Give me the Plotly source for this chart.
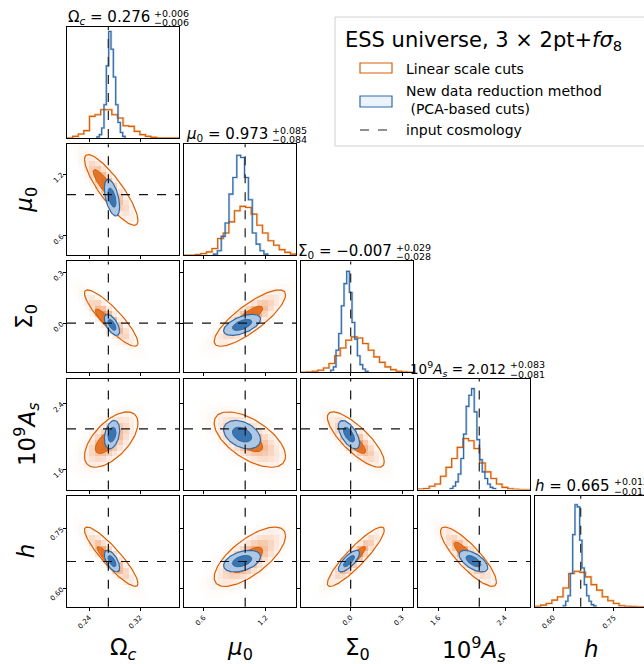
import numpy as np
import plotly.graph_objects as go

W, H = 644, 664

# ---------------- data ----------------
axis_labels = ["Ω<sub><i>c</i></sub>", "<i>μ</i><sub>0</sub>", "Σ<sub>0</sub>",
               "10<sup>9</sup><i>A</i><sub><i>s</i></sub>", "<i>h</i>"]
title_names = ["Ω<sub><i>c</i></sub>", "<i>μ</i><sub>0</sub>", "Σ<sub>0</sub>",
               "10<sup>9</sup><i>A</i><sub><i>s</i></sub>", "<i>h</i>"]
best_values = ["0.276", "0.973", "−0.007", "2.012", "0.665"]
err_plus = ["0.006", "0.085", "0.029", "0.083", "0.012"]
err_minus = ["0.006", "0.084", "0.028", "0.081", "0.012"]

axis_ranges = [[0.205, 0.381], [0.41, 1.49], [-0.29, 0.364], [1.353, 2.70], [0.555, 0.832]]
tick_values = [[0.24, 0.32], [0.6, 1.2], [0.0, 0.3], [1.6, 2.4], [0.60, 0.75]]
tick_labels = [["0.24", "0.32"], ["0.6", "1.2"], ["0.0", "0.3"], ["1.6", "2.4"], ["0.60", "0.75"]]
truth = [0.27, 1.0, 0.0, 2.09, 0.668]

# 1D histograms (bin start, bin width, heights as fraction of panel height)
orange_hist_start = [0.205, 0.41, -0.29, 1.353, 0.555]
orange_hist_width = [0.0088, 0.054, 0.0327, 0.06735, 0.01385]
orange_hist_heights = [
    [0, 0.015, 0.036, 0.066, 0.195, 0.21, 0.255, 0.255, 0.21, 0.18, 0.11, 0.105, 0.06, 0.03, 0.015, 0.006, 0, 0, 0, 0],
    [0, 0, 0.005, 0.015, 0.03, 0.06, 0.15, 0.2, 0.3, 0.4, 0.44, 0.43, 0.37, 0.27, 0.2, 0.13, 0.09, 0.05, 0.025, 0.01],
    [0, 0.003, 0.01, 0.02, 0.04, 0.08, 0.15, 0.22, 0.29, 0.32, 0.31, 0.26, 0.2, 0.14, 0.09, 0.05, 0.025, 0.01, 0.004, 0],
    [0.005, 0.01, 0.03, 0.05, 0.12, 0.2, 0.28, 0.38, 0.46, 0.44, 0.37, 0.24, 0.16, 0.1, 0.05, 0.02, 0.008, 0.003, 0, 0],
    [0.005, 0.015, 0.03, 0.06, 0.09, 0.17, 0.3, 0.32, 0.31, 0.27, 0.2, 0.15, 0.09, 0.055, 0.03, 0.01, 0.005, 0.003, 0, 0],
]
blue_hist_start = [0.2521, 0.694, -0.1167, 1.74, 0.625]
blue_hist_width = [0.00367, 0.0374, 0.01557, 0.0321, 0.00577]
blue_hist_heights = [
    [0.01, 0.03, 0.09, 0.3, 0.65, 0.96, 0.8, 0.55, 0.3, 0.14, 0.05, 0.015],
    [0.01, 0.04, 0.17, 0.29, 0.55, 0.7, 0.9, 0.88, 0.7, 0.5, 0.2, 0.1, 0.04, 0.01],
    [0.02, 0.05, 0.2, 0.35, 0.6, 0.8, 0.91, 0.72, 0.45, 0.3, 0.15, 0.07, 0.03, 0.01],
    [0.01, 0.03, 0.07, 0.14, 0.28, 0.5, 0.75, 0.85, 0.91, 0.7, 0.45, 0.27, 0.16, 0.1, 0.05, 0.02, 0.01],
    [0.01, 0.05, 0.1, 0.3, 0.65, 0.92, 0.9, 0.6, 0.35, 0.2, 0.1, 0.05, 0.02, 0.008],
]

# 2D posterior summaries
orange_mean = [0.2745, 1.045, 0.03, 1.96, 0.68]
orange_sigma = [0.021, 0.172, 0.083, 0.168, 0.037]
blue_mean = [0.2757, 0.97, -0.01, 2.02, 0.669]
blue_sigma = [0.006, 0.089, 0.031, 0.086, 0.0135]
# parameter pairs (x index, y index) of the lower-triangle panels
pair_x = [0, 0, 1, 0, 1, 2, 0, 1, 2, 3]
pair_y = [1, 2, 2, 3, 3, 3, 4, 4, 4, 4]
orange_rho = [-0.86, -0.88, 0.82, 0.6, -0.6, -0.8, -0.9, 0.7, 0.9, -0.85]
blue_rho = [-0.5, -0.6, 0.55, 0.3, -0.35, -0.6, -0.6, 0.4, 0.75, -0.6]
orange_inner_x = [0.264, 0.2674, 1.022, 0.2673, 1.022, 0.016, 0.27, 1.022, 0.016, 1.93]
orange_inner_y = [1.098, 0.013, 0.03, 1.934, 1.955, 1.934, 0.674, 0.672, 0.674, 0.685]

# ---------------- styling ----------------
FONT = "DejaVu Sans"
ORANGE = "#d95f02"
ORANGE_LIGHT = "rgba(217,95,2,0.35)"
ORANGE_FILL = "rgba(222,104,24,0.85)"
BLUE = "#2f6aa8"
BLUE_LIGHT = "rgba(47,106,168,0.35)"
BLUE_FILL_OUT = "rgb(174,200,228)"
BLUE_FILL_IN = "rgb(58,117,178)"

col_left = [67, 184, 301, 418, 535]
row_top = [27, 144.2, 261.4, 378.6, 495.8]
PW, PH = 112, 111
title_split = [152, 270, 394, 508, 612]
title_font = [15, 15, 15, 13.5, 15]

R_IN_O, R_OUT_O = 0.85, 2.0
R_IN_B, R_OUT_B = 1.05, 2.0


def xdom(j):
    l = col_left[j]
    r = min(l + PW, W)
    return [l / W, r / W]


def ydom(i):
    t = row_top[i]
    return [1 - (t + PH) / H, 1 - t / H]


def xrange_for(j):
    lo, hi = axis_ranges[j]
    l = col_left[j]
    r = min(l + PW, W)
    return [lo, lo + (hi - lo) * (r - l) / PW]


def ellipse(cx, cy, sx, sy, rho, r):
    t = np.linspace(0, 2 * np.pi, 120)
    x = cx + r * sx * np.cos(t)
    y = cy + r * sy * (rho * np.cos(t) + np.sqrt(1 - rho ** 2) * np.sin(t))
    return x, y


def P(x, y):
    return x / W, 1 - y / H


fig = go.Figure()
layout = dict(width=W, height=H, margin=dict(l=0, r=0, t=0, b=0),
              paper_bgcolor="white", plot_bgcolor="white", showlegend=False,
              font=dict(family=FONT, color="black"))
shapes = []
annotations = []

pair_index = {(pair_x[k], pair_y[k]): k for k in range(len(pair_x))}

n = 0
for i in range(5):
    for j in range(i + 1):
        n += 1
        sfx = "" if n == 1 else str(n)
        xa = "x" + sfx
        ya = "y" + sfx
        bottom = (i == 4)
        left = (j == 0)
        layout["xaxis" + sfx] = dict(domain=xdom(j), anchor=ya, range=xrange_for(j),
                                     showline=True, mirror=True, linecolor="black", linewidth=1,
                                     ticks="outside", ticklen=3, tickcolor="black",
                                     tickvals=tick_values[j], ticktext=tick_labels[j],
                                     showticklabels=bottom, tickangle=-45,
                                     tickfont=dict(size=7, family=FONT),
                                     showgrid=False, zeroline=False, fixedrange=True)
        if i == j:
            layout["yaxis" + sfx] = dict(domain=ydom(i), anchor=xa, range=[0, 1],
                                         showline=True, mirror=(j < 4), linecolor="black", linewidth=1,
                                         ticks="", showticklabels=False, showgrid=False, zeroline=False)
            for start, width, hts, col, light in [
                (orange_hist_start[i], orange_hist_width[i], orange_hist_heights[i], ORANGE, ORANGE_LIGHT),
                (blue_hist_start[i], blue_hist_width[i], blue_hist_heights[i], BLUE, BLUE_LIGHT),
            ]:
                nb = len(hts)
                edges = [start + width * k for k in range(nb + 1)]
                xs = [edges[0]] + edges[:nb] + [edges[nb]]
                ys = [0] + list(hts) + [0]
                fig.add_trace(go.Scatter(x=[v + width * 0.05 for v in xs], y=ys, xaxis=xa, yaxis=ya,
                                         mode="lines", line=dict(color=light, width=2.2, shape="hv"),
                                         hoverinfo="skip"))
                fig.add_trace(go.Scatter(x=xs, y=ys, xaxis=xa, yaxis=ya, mode="lines",
                                         line=dict(color=col, width=1.1, shape="hv"), hoverinfo="skip"))
            shapes.append(dict(type="line", xref=xa, yref=ya + " domain", x0=truth[j], x1=truth[j],
                               y0=0, y1=1, line=dict(color="#333333", width=1.3, dash="dash")))
            # title with stacked errors
            split = title_split[i]
            T = row_top[i]
            tx, ty = P(split - 1, T - 9.5)
            annotations.append(dict(xref="paper", yref="paper", x=tx, y=ty,
                                    xanchor="right", yanchor="middle", showarrow=False, borderpad=0,
                                    text=title_names[i] + " = " + best_values[i],
                                    font=dict(size=title_font[i], family=FONT)))
            tx, ty = P(split + 0.5, T - 14)
            annotations.append(dict(xref="paper", yref="paper", x=tx, y=ty,
                                    xanchor="left", yanchor="middle", showarrow=False, borderpad=0,
                                    text="+" + err_plus[i], font=dict(size=9.5, family=FONT)))
            tx, ty = P(split + 0.5, T - 4.5)
            annotations.append(dict(xref="paper", yref="paper", x=tx, y=ty,
                                    xanchor="left", yanchor="middle", showarrow=False, borderpad=0,
                                    text="−" + err_minus[i], font=dict(size=9.5, family=FONT)))
        else:
            layout["yaxis" + sfx] = dict(domain=ydom(i), anchor=xa, range=axis_ranges[i],
                                         showline=True, mirror=True, linecolor="black", linewidth=1,
                                         ticks="outside", ticklen=3, tickcolor="black",
                                         tickvals=tick_values[i], ticktext=tick_labels[i],
                                         showticklabels=left, tickangle=-45,
                                         tickfont=dict(size=7, family=FONT),
                                         showgrid=False, zeroline=False, fixedrange=True)
            k = pair_index[(j, i)]
            rho = orange_rho[k]
            # orange 2D density shading (20x20 cells)
            xlo, xhi = axis_ranges[j]
            ylo, yhi = axis_ranges[i]
            xc = np.linspace(xlo, xhi, 21)
            yc = np.linspace(ylo, yhi, 21)
            xm = 0.5 * (xc[1:] + xc[:-1])
            ym = 0.5 * (yc[1:] + yc[:-1])
            XX, YY = np.meshgrid(xm, ym)
            cxm = 0.5 * (orange_mean[j] + orange_inner_x[k])
            cym = 0.5 * (orange_mean[i] + orange_inner_y[k])
            u = (XX - cxm) / orange_sigma[j]
            v = (YY - cym) / orange_sigma[i]
            Q = (u ** 2 - 2 * rho * u * v + v ** 2) / (1 - rho ** 2)
            Z = np.exp(-0.6 * Q)
            fig.add_trace(go.Heatmap(x=xm, y=ym, z=Z, xaxis=xa, yaxis=ya, zmin=0, zmax=1,
                                     colorscale=[[0, "rgb(255,255,255)"], [1, "rgb(240,148,92)"]],
                                     showscale=False, hoverinfo="skip", zsmooth=False))
            # orange contours
            ex, ey = ellipse(orange_inner_x[k], orange_inner_y[k], orange_sigma[j], orange_sigma[i], rho, R_IN_O)
            fig.add_trace(go.Scatter(x=ex, y=ey, xaxis=xa, yaxis=ya, mode="lines", fill="toself",
                                     fillcolor=ORANGE_FILL, line=dict(color=ORANGE, width=1), hoverinfo="skip"))
            ex, ey = ellipse(orange_mean[j], orange_mean[i], orange_sigma[j], orange_sigma[i], rho, R_OUT_O)
            fig.add_trace(go.Scatter(x=ex, y=ey, xaxis=xa, yaxis=ya, mode="lines",
                                     line=dict(color=ORANGE, width=1.2), hoverinfo="skip"))
            # blue contours
            rb = blue_rho[k]
            ex, ey = ellipse(blue_mean[j], blue_mean[i], blue_sigma[j], blue_sigma[i], rb, R_OUT_B)
            fig.add_trace(go.Scatter(x=ex, y=ey, xaxis=xa, yaxis=ya, mode="lines", fill="toself",
                                     fillcolor=BLUE_FILL_OUT, line=dict(color=BLUE, width=1.2), hoverinfo="skip"))
            ex, ey = ellipse(blue_mean[j], blue_mean[i], blue_sigma[j], blue_sigma[i], rb, R_IN_B)
            fig.add_trace(go.Scatter(x=ex, y=ey, xaxis=xa, yaxis=ya, mode="lines", fill="toself",
                                     fillcolor=BLUE_FILL_IN, line=dict(color=BLUE, width=1), hoverinfo="skip"))
            # truth lines
            shapes.append(dict(type="line", xref=xa, yref=ya + " domain", x0=truth[j], x1=truth[j],
                               y0=0, y1=1, line=dict(color="#111111", width=1.2, dash="dash")))
            shapes.append(dict(type="line", xref=xa + " domain", yref=ya, x0=0, x1=1,
                               y0=truth[i], y1=truth[i], line=dict(color="#111111", width=1.2, dash="dash")))

# axis labels
for k in range(5):
    cx = col_left[k] + PW / 2
    annotations.append(dict(xref="paper", yref="paper", x=cx / W, y=1 - 649 / H,
                            xanchor="center", yanchor="middle", showarrow=False,
                            text=axis_labels[k], font=dict(size=23, family=FONT)))
for k in range(1, 5):
    cy = row_top[k] + PH / 2
    annotations.append(dict(xref="paper", yref="paper", x=26 / W, y=1 - cy / H,
                            xanchor="center", yanchor="middle", showarrow=False, textangle=-90,
                            text=axis_labels[k], font=dict(size=23, family=FONT)))

# legend (drawn manually)
lx0, ly0 = P(335, 17)
lx1, ly1 = P(660, 146)
shapes.append(dict(type="rect", xref="paper", yref="paper", x0=lx0, y0=ly1, x1=lx1, y1=ly0,
                   line=dict(color="#d0d0d0", width=1), fillcolor="rgba(255,255,255,0.85)", layer="above"))
ax, ay = P(343, 41)
annotations.append(dict(xref="paper", yref="paper", x=ax, y=ay, xanchor="left", yanchor="middle",
                        showarrow=False, text="ESS universe, 3 × 2pt+<i>fσ</i><sub>8</sub>",
                        font=dict(size=21, family=FONT)))
a0, b0 = P(360, 63)
a1, b1 = P(392, 73)
shapes.append(dict(type="rect", xref="paper", yref="paper", x0=a0, y0=b1, x1=a1, y1=b0,
                   line=dict(color=ORANGE, width=1.2), fillcolor="white", layer="above"))
a0, b0 = P(360, 96)
a1, b1 = P(392, 107)
shapes.append(dict(type="rect", xref="paper", yref="paper", x0=a0, y0=b1, x1=a1, y1=b0,
                   line=dict(color=BLUE, width=1.2), fillcolor="rgb(235,242,250)", layer="above"))
a0, b0 = P(360, 130)
a1, b1 = P(392, 130)
shapes.append(dict(type="line", xref="paper", yref="paper", x0=a0, y0=b0, x1=a1, y1=b1,
                   line=dict(color="#222222", width=1.2, dash="dash"), layer="above"))
for txt, yy in [("Linear scale cuts", 69), ("New data reduction method<br> (PCA-based cuts)", 100),
                ("input cosmology", 130)]:
    tx, ty = P(404, yy)
    annotations.append(dict(xref="paper", yref="paper", x=tx, y=ty, xanchor="left", yanchor="middle",
                            showarrow=False, align="left", text=txt, font=dict(size=14, family=FONT)))

layout["shapes"] = shapes
layout["annotations"] = annotations
fig.update_layout(**layout)
fig.write_html("out.html")
